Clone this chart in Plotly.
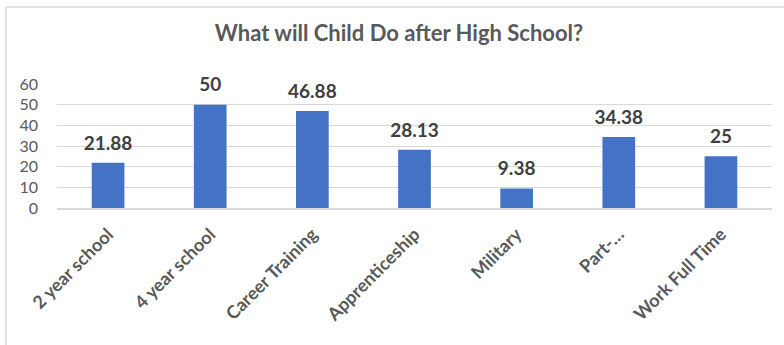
import plotly.graph_objects as go

categories = ["2 year school", "4 year school", "Career Training", "Apprenticeship",
              "Military", "Part-…", "Work Full Time"]
values = [21.88, 50, 46.88, 28.13, 9.38, 34.38, 25]
labels = ["21.88", "50", "46.88", "28.13", "9.38", "34.38", "25"]
y_ticks = [0, 10, 20, 30, 40, 50, 60]

W, H = 784, 345
ml, mr, mt, mb = 57, 12, 84, 137

fig = go.Figure()
fig.add_trace(go.Bar(
    x=categories, y=values,
    marker=dict(color="#4472C4", line=dict(width=0)),
    hoverinfo="skip",
))
fig.add_trace(go.Scatter(
    x=categories, y=values, text=labels, mode="markers+text", textposition="top center",
    marker=dict(size=12, opacity=0),
    textfont=dict(family="Lato", size=19, color="#404040", weight="bold"),
    cliponaxis=False,
))

pw, ph = W - ml - mr, H - mt - mb
def px_x(x): return (x - ml) / pw
def px_y(y): return (H - mb - y) / ph

fig.update_layout(
    width=W, height=H,
    margin=dict(l=ml, r=mr, t=mt, b=mb),
    paper_bgcolor="white", plot_bgcolor="white",
    bargap=0.68,
    showlegend=False,
    title=dict(text="<b>What will Child Do after High School?</b>",
               x=399 / W, xanchor="center", y=1 - 33 / H, yanchor="middle",
               font=dict(family="Lato", size=22, color="#595959")),
    xaxis=dict(tickangle=-45, showgrid=False, showline=True, linecolor="#d9d9d9",
               linewidth=1.5, ticks="", ticklabelstandoff=7,
               tickfont=dict(family="Lato", size=18, color="#595959", weight="bold")),
    yaxis=dict(range=[0, 60], tickvals=y_ticks, showgrid=True, gridcolor="#d9d9d9",
               gridwidth=1, zeroline=False, showline=False, ticks="",
               tickfont=dict(family="Lato", size=16, color="#595959"), ticklabelstandoff=18),
    shapes=[
        dict(type="line", xref="paper", yref="paper", x0=px_x(6), x1=px_x(W), y0=px_y(7), y1=px_y(7),
             line=dict(color="#d9d9d9", width=1.5)),
        dict(type="line", xref="paper", yref="paper", x0=px_x(6), x1=px_x(6), y0=px_y(7), y1=px_y(H),
             line=dict(color="#d9d9d9", width=1.5)),
    ],
)

fig.write_html("out.html")
